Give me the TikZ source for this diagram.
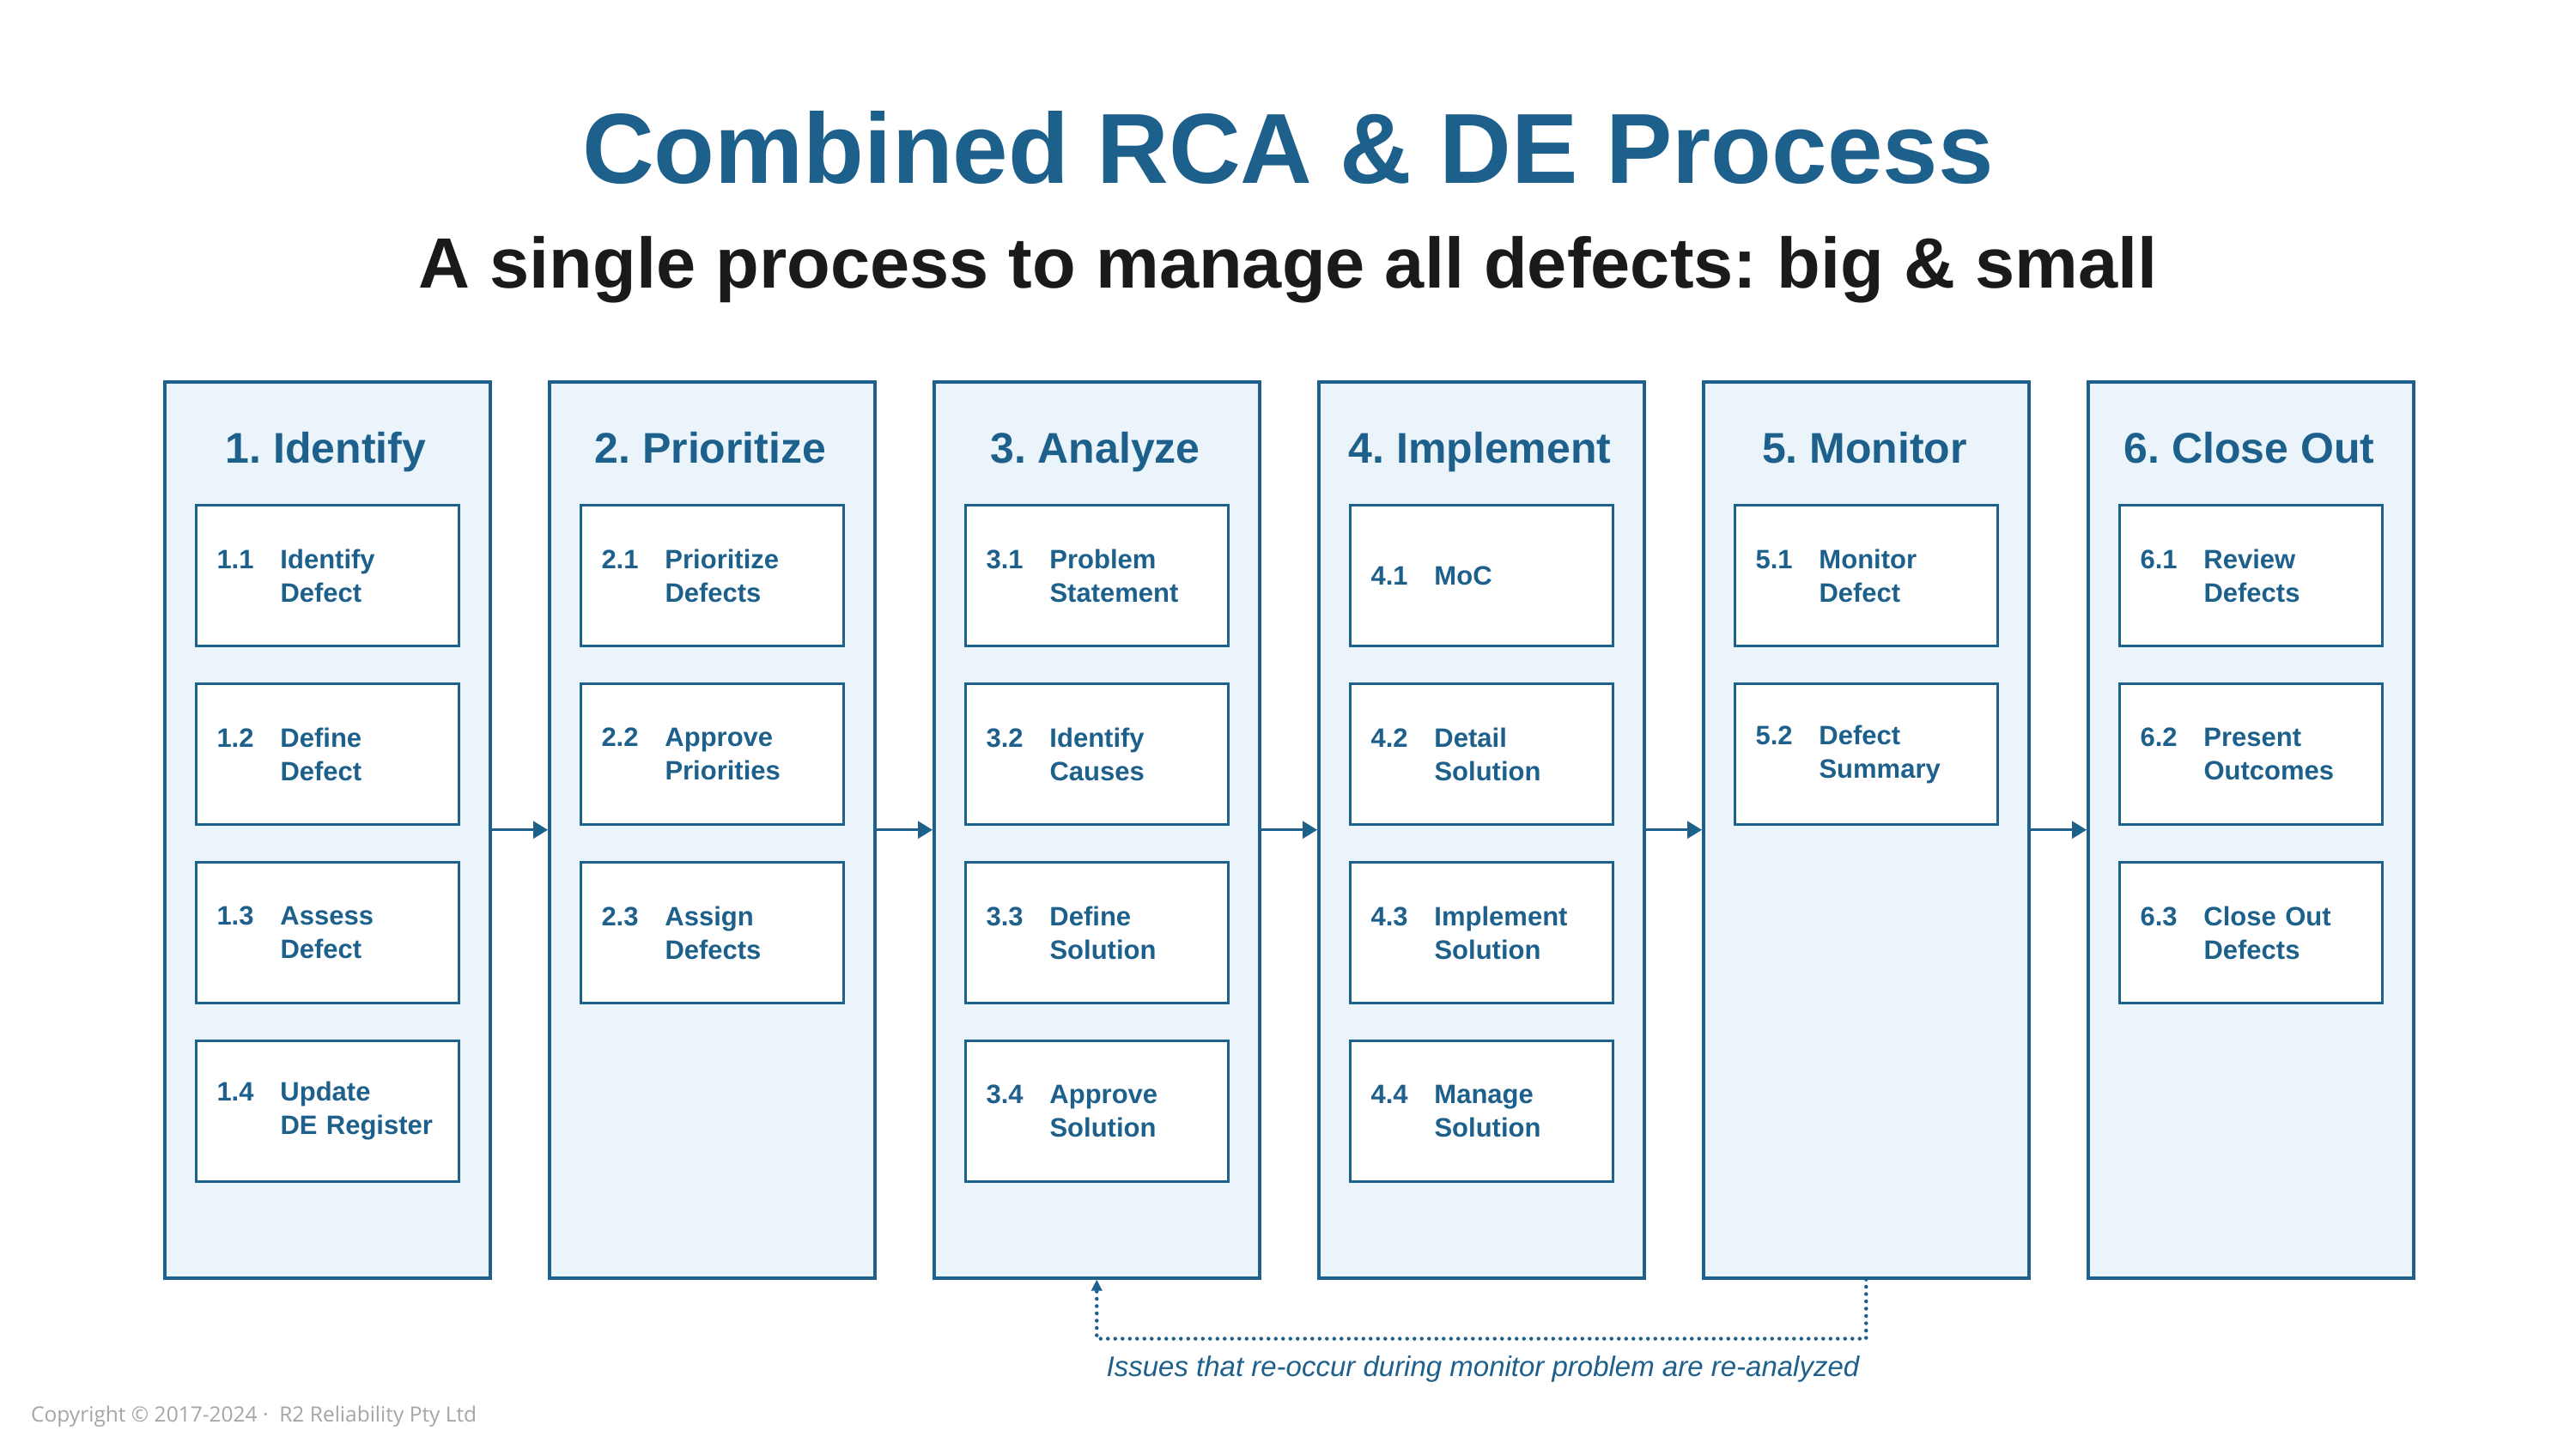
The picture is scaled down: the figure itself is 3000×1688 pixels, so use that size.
\documentclass[tikz,border=0pt]{standalone}
\usepackage{fontspec}
\setmainfont{Liberation Sans}
\newfontfamily\copyfont{Open Sans}
\usetikzlibrary{arrows.meta}
\frenchspacing
\definecolor{rcablue}{RGB}{30,96,140}
\definecolor{rcafill}{RGB}{235,244,250}
\definecolor{rcagrey}{RGB}{165,165,165}
\definecolor{rcablack}{RGB}{26,26,26}
\newcommand\taskline[3]{\makebox[74pt][l]{#1}#2\\\hspace*{74pt}#3}
\tikzset{
  phase/.style={draw=rcablue, fill=rcafill, line width=3.5pt, minimum width=379pt,
    minimum height=1044pt, anchor=north west, inner sep=0pt},
  phasehead/.style={rcablue, anchor=base, inner sep=0pt,
    font=\fontsize{50pt}{60pt}\bfseries\selectfont},
  task/.style={draw=rcablue, fill=white, line width=3pt, minimum width=306pt,
    minimum height=164pt, anchor=north west, inner xsep=24pt, inner ysep=0pt,
    text width=258pt, align=left, text=rcablue,
    font=\fontsize{31pt}{39pt}\bfseries\selectfont},
  flow/.style={rcablue, line width=3pt, -{Triangle[length=17pt, width=20pt]}},
  feedback/.style={rcablue, line width=4.5pt, line cap=round, dash pattern=on 0pt off 8.5pt,
    -{Triangle[length=13pt, width=12pt]}},
}
\begin{document}
\begin{tikzpicture}[x=1pt,y=-1pt]
\useasboundingbox (0,0) rectangle (3000,1688);
% title
\node[rcablue, anchor=base, font=\fontsize{116pt}{130pt}\bfseries\selectfont] (title) at (1500,214) {Combined RCA \& DE Process};
\node[rcablack, anchor=base, font=\fontsize{83pt}{96pt}\bfseries\selectfont] (subtitle) at (1500,335) {A single process to manage all defects: big \& small};
% phase columns
\node[phase] (c1) at (190,443) {};
\node[phase] (c2) at (638,443) {};
\node[phase] (c3) at (1086,443) {};
\node[phase] (c4) at (1534,443) {};
\node[phase] (c5) at (1982,443) {};
\node[phase] (c6) at (2430,443) {};
\node[phasehead] (h1) at (379.5,539) {1. Identify};
\node[phasehead] (h2) at (827.5,539) {2. Prioritize};
\node[phasehead] (h3) at (1275.5,539) {3. Analyze};
\node[phasehead] (h4) at (1723.5,539) {4. Implement};
\node[phasehead] (h5) at (2171.5,539) {5. Monitor};
\node[phasehead] (h6) at (2619.5,539) {6. Close Out};
% 1. Identify
\node[task] (b11) at (227,587) {\taskline{1.1}{Identify}{Defect}};
\node[task] (b12) at (227,795) {\taskline{1.2}{Define}{Defect}};
\node[task] (b13) at (227,1003) {\taskline{1.3}{Assess}{Defect}};
\node[task] (b14) at (227,1211) {\taskline{1.4}{Update}{DE Register}};
% 2. Prioritize
\node[task] (b21) at (675,587) {\taskline{2.1}{Prioritize}{Defects}};
\node[task] (b22) at (675,795) {\taskline{2.2}{Approve}{Priorities}};
\node[task] (b23) at (675,1003) {\taskline{2.3}{Assign}{Defects}};
% 3. Analyze
\node[task] (b31) at (1123,587) {\taskline{3.1}{Problem}{Statement}};
\node[task] (b32) at (1123,795) {\taskline{3.2}{Identify}{Causes}};
\node[task] (b33) at (1123,1003) {\taskline{3.3}{Define}{Solution}};
\node[task] (b34) at (1123,1211) {\taskline{3.4}{Approve}{Solution}};
% 4. Implement
\node[task] (b41) at (1571,587) {\makebox[74pt][l]{4.1}MoC};
\node[task] (b42) at (1571,795) {\taskline{4.2}{Detail}{Solution}};
\node[task] (b43) at (1571,1003) {\taskline{4.3}{Implement}{Solution}};
\node[task] (b44) at (1571,1211) {\taskline{4.4}{Manage}{Solution}};
% 5. Monitor
\node[task] (b51) at (2019,587) {\taskline{5.1}{Monitor}{Defect}};
\node[task] (b52) at (2019,795) {\taskline{5.2}{Defect}{Summary}};
% 6. Close Out
\node[task] (b61) at (2467,587) {\taskline{6.1}{Review}{Defects}};
\node[task] (b62) at (2467,795) {\taskline{6.2}{Present}{Outcomes}};
\node[task] (b63) at (2467,1003) {\taskline{6.3}{Close Out}{Defects}};
% flow between phases
\draw[flow] (c1.east) -- (c2.west);
\draw[flow] (c2.east) -- (c3.west);
\draw[flow] (c3.east) -- (c4.west);
\draw[flow] (c4.east) -- (c5.west);
\draw[flow] (c5.east) -- (c6.west);
% re-analysis loop
\draw[feedback] (c5.south) -- ++(0,69) coordinate (fb) -| (c3.south);
\node[rcablue, anchor=base, inner sep=0pt, font=\fontsize{33pt}{40pt}\itshape\selectfont] (note) at (1727,1603) {Issues that re-occur during monitor problem are re-analyzed};
% footer
\node[rcagrey, anchor=base west, inner sep=0pt, font=\copyfont\fontsize{24.5pt}{28pt}\selectfont] (copy) at (36,1656) {Copyright \textcopyright{} 2017-2024 ·\ \ R2 Reliability Pty Ltd};
\end{tikzpicture}
\end{document}
